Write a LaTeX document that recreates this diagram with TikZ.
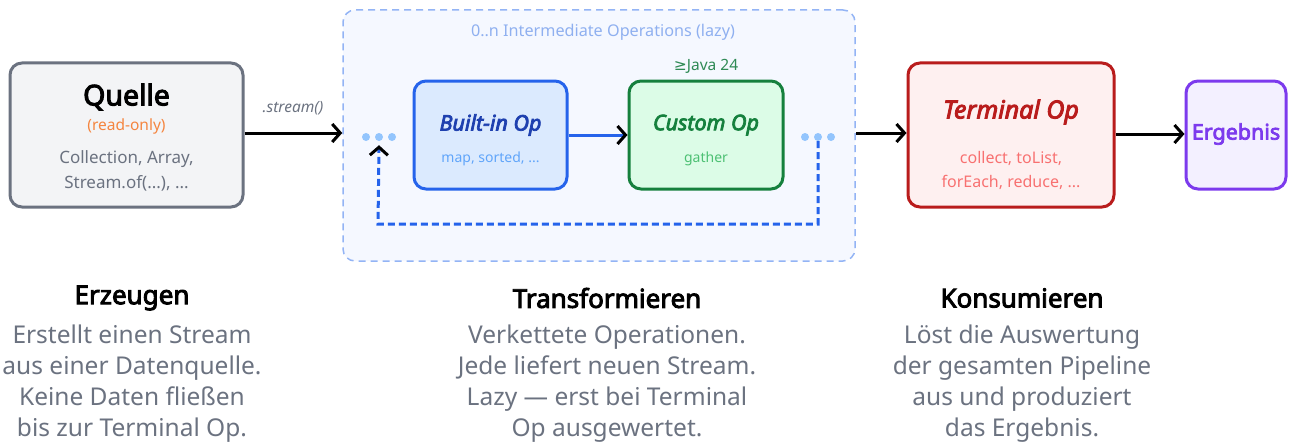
\documentclass[tikz,border=0pt]{standalone}
\usepackage{fontspec}
\setmainfont{Noto Sans}[BoldFont={Noto Sans}, BoldFeatures={FakeBold=3.5}, BoldItalicFont={Noto Sans Italic}, BoldItalicFeatures={FakeBold=3.5}]
\newfontfamily\symfont{DejaVu Sans}
\usetikzlibrary{arrows.meta}
\definecolor{qgray}{HTML}{6B7280}
\definecolor{qfill}{HTML}{F3F4F6}
\definecolor{qorange}{HTML}{F5853F}
\definecolor{cfill}{HTML}{F5F8FF}
\definecolor{cline}{HTML}{93B4F5}
\definecolor{ctext}{HTML}{8FB0F0}
\definecolor{dotc}{HTML}{93C5FD}
\definecolor{bfill}{HTML}{DBEAFE}
\definecolor{bline}{HTML}{2563EB}
\definecolor{btitle}{HTML}{1E40AF}
\definecolor{bsub}{HTML}{60A5FA}
\definecolor{gfill}{HTML}{DCFCE7}
\definecolor{gline}{HTML}{15803D}
\definecolor{gsub}{HTML}{4CC073}
\definecolor{gjava}{HTML}{2F8A55}
\definecolor{tfill}{HTML}{FEF0F0}
\definecolor{tline}{HTML}{B91C1C}
\definecolor{tsub}{HTML}{F87171}
\definecolor{efill}{HTML}{F3F0FF}
\definecolor{eline}{HTML}{7C3AED}
\tikzset{
  x=1pt,y=-1pt,
  boxstyle/.style={draw, line width=3pt, rounded corners=12pt, inner sep=0pt},
  arr/.style={line width=3pt, -{Straight Barb[length=8pt,width=18pt,black]}},
  dotn/.style={circle, fill=dotc, minimum size=8pt, inner sep=0pt},
  body/.style={text=qgray, font=\fontsize{24.5}{31}\selectfont, align=center},
  head/.style={font=\fontsize{26}{30}\selectfont\bfseries},
}
\begin{document}
\begin{tikzpicture}
\useasboundingbox (0,0) rectangle (1292,444);
% container
\node[draw=cline, fill=cfill, line width=1.5pt, dash pattern=on 7pt off 5pt, rounded corners=12pt, minimum width=512pt, minimum height=251pt, inner sep=0pt] (cont) at (599,135.5) {};
\node[text=ctext, font=\fontsize{16.2}{19}\selectfont] (ctitle) at (603,32) {0..n Intermediate Operations (lazy)};
% Quelle
\node[boxstyle, draw=qgray, fill=qfill, minimum width=233pt, minimum height=144pt] (quelle) at (126.5,135) {};
\node[font=\fontsize{28.5}{32}\selectfont\bfseries] (qt) at (126.5,97) {Quelle};
\node[text=qorange, font=\fontsize{15.5}{18}\selectfont] (qs) at (126.5,126) {(read-only)};
\node[text=qgray, font=\fontsize{17}{25}\selectfont, align=center] (qb) at (126.5,170.5) {Collection, Array,\\Stream.of(...), ...};
% dots
\node[dotn] (dl1) at (366,137) {};
\node[dotn] (dl2) at (379,137) {};
\node[dotn] (dl3) at (392,137) {};
\node[dotn] (dr1) at (805,137) {};
\node[dotn] (dr2) at (818,137) {};
\node[dotn] (dr3) at (831,137) {};
% Built-in
\node[boxstyle, draw=bline, fill=bfill, minimum width=153pt, minimum height=108pt] (built) at (490.5,135) {};
\node[text=btitle, font=\fontsize{21.5}{24}\selectfont\bfseries\itshape] (bt) at (490.5,125) {Built-in Op};
\node[text=bsub, font=\fontsize{14}{16}\selectfont] (bs) at (490.5,159) {map, sorted, ...};
% Custom
\node[boxstyle, draw=gline, fill=gfill, minimum width=154pt, minimum height=108pt] (custom) at (706,135) {};
\node[text=gline, font=\fontsize{21.5}{24}\selectfont\bfseries\itshape] (ct) at (706,125) {Custom Op};
\node[text=gsub, font=\fontsize{14}{16}\selectfont] (cs) at (706,159) {gather};
\node[text=gjava, font=\fontsize{15.5}{18}\selectfont] (cj) at (706,66) {{\symfont ≥}Java 24};
% Terminal
\node[boxstyle, draw=tline, fill=tfill, minimum width=206pt, minimum height=144pt] (term) at (1011,135) {};
\node[text=tline, font=\fontsize{25}{28}\selectfont\bfseries\itshape] (tt) at (1011,112) {Terminal Op};
\node[text=tsub, font=\fontsize{16}{24.5}\selectfont, align=center] (tb) at (1011,170.5) {collect, toList,\\forEach, reduce, ...};
% Ergebnis
\node[boxstyle, draw=eline, fill=efill, minimum width=100pt, minimum height=108pt] (erg) at (1236,135) {};
\node[text=eline, font=\fontsize{21.5}{24}\selectfont\bfseries] (et) at (1236,134) {Ergebnis};
% arrows
\draw[arr] (quelle.east |- 0,133) -- (cont.west |- 0,133);
\node[text=qgray, font=\fontsize{15.5}{18}\selectfont\itshape] (stl) at (293,108) {.stream()};
\draw[arr, draw=bline] (built.east) -- (custom.west);
\draw[arr] (cont.east |- 0,133) -- (term.west |- 0,133);
\draw[arr] (term.east |- 0,134) -- (erg.west |- 0,134);
\coordinate (lpA) at (818,224);
\coordinate (lpB) at (378,224);
\draw[line width=3pt, draw=bline, dash pattern=on 7pt off 4pt, -{Straight Barb[length=8pt,width=18pt,black]}]
  (dr2.south) -- (lpA) -- (lpB) -- ([yshift=-4pt]dl2.south);
% bottom text
\node[head] (h1) at (132,298) {Erzeugen};
\node[head] (h2) at (607,298) {Transformieren};
\node[head] (h3) at (1022,298) {Konsumieren};
\node[body] (b1) at (132,384) {Erstellt einen Stream\\aus einer Datenquelle.\\Keine Daten fließen\\bis zur Terminal Op.};
\node[body] (b2) at (607,384) {Verkettete Operationen.\\Jede liefert neuen Stream.\\Lazy — erst bei Terminal\\Op ausgewertet.};
\node[body] (b3) at (1022,384) {Löst die Auswertung\\der gesamten Pipeline\\aus und produziert\\das Ergebnis.};
\end{tikzpicture}
\end{document}
